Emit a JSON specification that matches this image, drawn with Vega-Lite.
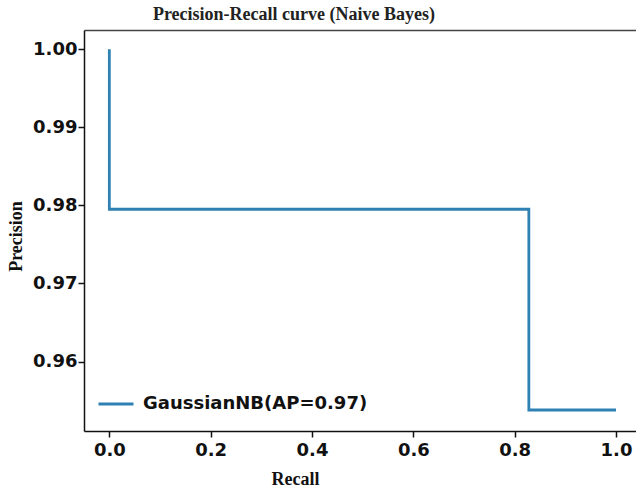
{
  "$schema": "https://vega.github.io/schema/vega-lite/v6.json",
  "autosize": {"type": "none"},
  "padding": {"left": 84, "top": 30, "right": 0, "bottom": 57},
  "width": 552,
  "height": 401,
  "background": "white",
  "title": {
    "text": "Precision-Recall curve (Naive Bayes)",
    "font": "Liberation Serif",
    "fontSize": 18,
    "fontWeight": "bold",
    "color": "#222222",
    "anchor": "middle",
    "frame": "group",
    "dx": -66,
    "offset": 6
  },
  "data": {
    "values": [
      {"recall": 0.0, "precision": 1.0, "model": "GaussianNB(AP=0.97)", "order": 1},
      {"recall": 0.0, "precision": 0.9795, "model": "GaussianNB(AP=0.97)", "order": 2},
      {"recall": 0.828, "precision": 0.9795, "model": "GaussianNB(AP=0.97)", "order": 3},
      {"recall": 0.828, "precision": 0.9538, "model": "GaussianNB(AP=0.97)", "order": 4},
      {"recall": 1.0, "precision": 0.9538, "model": "GaussianNB(AP=0.97)", "order": 5}
    ]
  },
  "config": {
    "view": {"stroke": null},
    "axis": {
      "grid": false,
      "domainColor": "#111111",
      "domainWidth": 1.5,
      "tickColor": "#111111",
      "tickWidth": 1.5,
      "tickSize": 6,
      "labelFont": "DejaVu Sans",
      "labelFontWeight": "bold",
      "labelFontSize": 18,
      "labelColor": "#111111",
      "titleFont": "Liberation Serif",
      "titleFontWeight": "bold",
      "titleFontSize": 18,
      "titleColor": "#111111"
    }
  },
  "layer": [
    {
      "mark": {"type": "line", "strokeWidth": 2.8, "strokeCap": "butt", "strokeJoin": "miter"},
      "encoding": {
        "x": {
          "field": "recall",
          "type": "quantitative",
          "scale": {"domain": [-0.05, 1.0395], "nice": false, "zero": false},
          "axis": {
            "title": "Recall",
            "values": [0, 0.2, 0.4, 0.6, 0.8, 1.0],
            "format": ".1f",
            "labelPadding": 4,
            "titleX": 211,
            "titleY": 39
          }
        },
        "y": {
          "field": "precision",
          "type": "quantitative",
          "scale": {"domain": [0.95111, 1.00245], "nice": false, "zero": false},
          "axis": {
            "title": "Precision",
            "values": [0.96, 0.97, 0.98, 0.99, 1.0],
            "format": ".2f",
            "labelPadding": 1,
            "titleX": -59,
            "titleY": 206
          }
        },
        "order": {"field": "order", "type": "quantitative"},
        "color": {
          "field": "model",
          "type": "nominal",
          "scale": {"range": ["#2f80b3"]},
          "legend": {
            "title": null,
            "orient": "none",
            "legendX": 13,
            "legendY": 355,
            "padding": 0,
            "symbolType": "stroke",
            "symbolSize": 1225,
            "symbolStrokeWidth": 3,
            "labelFont": "DejaVu Sans",
            "labelFontWeight": "bold",
            "labelFontSize": 18,
            "labelColor": "#111111",
            "labelLimit": 400,
            "labelOffset": 8
          }
        }
      }
    },
    {
      "mark": {"type": "line", "strokeOpacity": 0},
      "encoding": {
        "x": {
          "field": "recall",
          "type": "quantitative",
          "axis": {"orient": "top", "title": null, "labels": false, "ticks": false, "domainColor": "#444444"}
        },
        "y": {"field": "precision", "type": "quantitative"},
        "order": {"field": "order", "type": "quantitative"}
      }
    }
  ],
  "resolve": {"axis": {"x": "independent"}}
}
